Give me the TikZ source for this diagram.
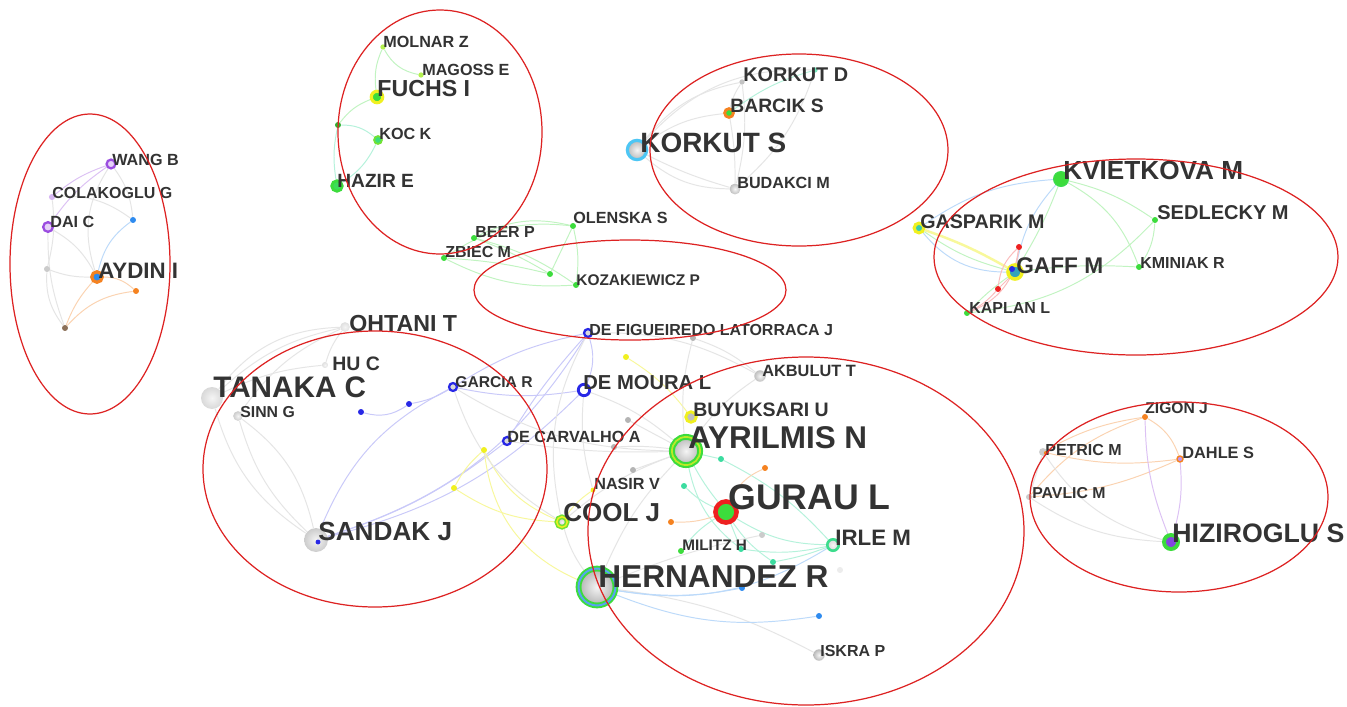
\documentclass[tikz,border=0pt]{standalone}
\usepackage{fontspec}
\setmainfont{Liberation Sans}
\pgfdeclarelayer{back}
\pgfdeclarelayer{bg}
\pgfsetlayers{back,bg,main}
\definecolor{txt}{HTML}{333333}
\definecolor{ellred}{HTML}{DD2222}
\definecolor{vgreen}{HTML}{3CDC3C}
\definecolor{vblue}{HTML}{2828E6}
\definecolor{dblue}{HTML}{2E8BEF}
\definecolor{vpurple}{HTML}{9B4DE0}
\definecolor{vorange}{HTML}{F58220}
\definecolor{vyellow}{HTML}{F0F020}
\definecolor{vteal}{HTML}{3CDCA0}
\definecolor{vgray}{HTML}{B4B4B4}
\definecolor{vbrown}{HTML}{8C7058}
\definecolor{vred}{HTML}{EE2020}
\definecolor{vlime}{HTML}{B4F050}
\tikzset{
  dot/.style={circle, inner sep=0pt, fill=#1},
  sz/.style={minimum size=#1},
  ring/.style={draw=#1, line width=1.3pt},
  gball/.style={circle, inner sep=0pt, inner color=gray!8, outer color=gray!#1},
  lab/.style={anchor=west, inner sep=0pt, text=txt, font=\bfseries\fontsize{#1}{#1}\selectfont},
  edge/.style={line width=0.55pt},
  eG/.style={edge, draw=vgray!35},
  eGr/.style={edge, draw=vgreen!32},
  eT/.style={edge, draw=vteal!38},
  eB/.style={edge, draw=dblue!32},
  eV/.style={edge, draw=vblue!25},
  eP/.style={edge, draw=vpurple!35},
  eO/.style={edge, draw=vorange!35},
  eY/.style={edge, draw=vyellow!45},
  eR/.style={edge, draw=vred!30},
  cluster/.style={draw=ellred, line width=0.7pt}
}
\begin{document}
\begin{tikzpicture}[x=0.02cm,y=-0.02cm]
\useasboundingbox (0,0) rectangle (1347,707);
\begin{pgfonlayer}{back}
\fill[white] (0,0) rectangle (1347,707);
\end{pgfonlayer}
% ---------- nodes: Aydin cluster
\node[dot=vpurple!25, sz=5pt, ring=vpurple] (wang) at (111,164) {};
\node[dot=vpurple!40, sz=3.5pt] (colak) at (52,197) {};
\node[dot=vpurple!25, sz=5.5pt, ring=vpurple] (dai) at (48,227) {};
\node[dot=dblue, sz=3.4pt] (a1) at (133,220) {};
\node[dot=vgray!70, sz=3.4pt] (a2) at (47,269) {};
\node[dot=dblue, sz=6pt, draw=vorange, line width=1.8pt] (aydin) at (97,277) {};
\node[dot=vorange, sz=3.4pt] (a3) at (136,291) {};
\node[dot=vbrown, sz=3.4pt] (a4) at (65,328) {};
% ---------- Fuchs cluster
\node[dot=vlime, sz=3pt] (molnar) at (383,47) {};
\node[dot=vlime, sz=3pt] (magoss) at (421,75) {};
\node[dot=vgreen, sz=6.5pt, draw=vyellow, line width=1.8pt] (fuchs) at (377,97) {};
\node[dot=vgreen!80!black, sz=3.4pt] (f1) at (338,125) {};
\node[dot=vteal!60!vgreen, sz=4.5pt, draw=vgreen!70!vyellow, line width=1pt] (koc) at (378,140) {};
\node[dot=vgreen!70!vteal, sz=6pt, draw=vgreen, line width=1.6pt] (hazir) at (337,186) {};
% ---------- Korkut cluster
\node[dot=vgray!80, sz=3pt] (korkutd) at (742,82) {};
\node[dot=vteal!70, sz=3pt] (k1) at (815,70) {};
\node[dot=vgreen, sz=5pt, draw=vorange, line width=1.6pt] (barcik) at (729,113) {};
\node[gball=55, sz=11pt, draw=cyan!70, line width=1.8pt] (korkuts) at (637,150) {};
\node[gball=50, sz=6.2pt] (budakci) at (735,189) {};
% ---------- Kvietkova cluster
\node[dot=vgreen, sz=8.5pt, draw=vgreen!80!vteal, line width=0.6pt] (kviet) at (1061,179) {};
\node[dot=vgreen, sz=3.4pt] (sedlecky) at (1155,220) {};
\node[dot=vteal!80!dblue, sz=5.5pt, draw=vyellow, line width=1.8pt] (gasparik) at (919,228) {};
\node[dot=dblue!70!vgreen, sz=8pt, draw=vyellow, line width=2pt] (gaff) at (1015,272) {};
\node[dot=vblue, sz=3.4pt] (gaffb) at (1012,269) {};
\node[dot=vgreen, sz=3.4pt] (kminiak) at (1139,267) {};
\node[dot=vgreen, sz=3.4pt] (kaplan) at (967,313) {};
\node[dot=vred, sz=3.4pt] (r1) at (1019,247) {};
\node[dot=vred, sz=3.4pt] (r2) at (998,289) {};
% ---------- centre green group
\node[dot=vgreen, sz=3.4pt] (beer) at (474,238) {};
\node[dot=vgreen, sz=3.4pt] (olenska) at (573,226) {};
\node[dot=vgreen, sz=3.4pt] (zbiec) at (444,258) {};
\node[dot=vgreen, sz=3.4pt] (c1) at (550,274) {};
\node[dot=vgreen, sz=3.4pt] (kozak) at (576,285) {};
% ---------- Sandak cluster
\node[gball=25, sz=5.5pt] (ohtani) at (345,327) {};
\node[gball=25, sz=3.4pt] (hu) at (325,365) {};
\node[gball=30, sz=12.5pt] (tanaka) at (212,398) {};
\node[gball=40, sz=5.5pt] (sinn) at (238,416) {};
\node[dot=gray!30, sz=4.5pt, ring=vblue] (garcia) at (453,387) {};
\node[dot=vblue, sz=3.4pt] (s1) at (409,404) {};
\node[dot=vblue, sz=3.4pt] (s2) at (361,412) {};
\node[dot=gray!30, sz=4.5pt, ring=vblue] (decarv) at (507,441) {};
\node[dot=vyellow, sz=3.4pt] (y1) at (484,450) {};
\node[dot=vyellow, sz=3.4pt] (y2) at (454,488) {};
\node[gball=40, sz=13.6pt] (sandak) at (316,540) {};
\node[dot=vblue, sz=2.8pt] (sandakb) at (318,542) {};
% ---------- middle / Gurau cluster
\node[dot=gray!30, sz=4.5pt, ring=vblue] (defig) at (588,333) {};
\node[dot=white, sz=6.5pt, draw=vblue, line width=1.6pt] (demoura) at (584,390) {};
\node[dot=vyellow, sz=3.4pt] (y3) at (626,357) {};
\node[dot=vgray, sz=3.4pt] (m1) at (693,338) {};
\node[gball=50, sz=6.5pt] (akbulut) at (760,376) {};
\node[dot=gray!50, sz=6pt, draw=vyellow, line width=1.6pt] (buyuk) at (691,417) {};
\node[dot=vgray, sz=3.4pt] (m2) at (628,420) {};
\node[dot=vgray, sz=3.4pt] (m3) at (614,447) {};
\node[dot=vgray, sz=3.4pt] (m4) at (633,470) {};
\node[gball=55, sz=16pt, draw=vgreen, double=vyellow!70!vgreen, double distance=1pt, line width=1.2pt] (ayrilmis) at (686,451) {};
\node[dot=vteal, sz=3.4pt] (t1) at (721,459) {};
\node[dot=vteal, sz=3.4pt] (t2) at (684,486) {};
\node[dot=vorange, sz=3.4pt] (o1) at (765,468) {};
\node[dot=vyellow, sz=2.8pt] (nasir) at (593,490) {};
\node[dot=vgreen, sz=12pt, draw=vred, line width=2.6pt] (gurau) at (726,512) {};
\node[gball=50, sz=6pt, draw=vgreen!70!vyellow, double=vyellow, double distance=0.8pt, line width=0.9pt] (cool) at (562,522) {};
\node[dot=vorange, sz=3.4pt] (o2) at (671,522) {};
\node[dot=vgray!70, sz=3.4pt] (g1) at (762,535) {};
\node[dot=vgreen, sz=3.4pt] (militz) at (681,551) {};
\node[dot=vteal, sz=3.4pt] (t3) at (741,549) {};
\node[dot=vteal, sz=3.4pt] (t4) at (773,562) {};
\node[gball=30, sz=6.5pt, draw=vteal!80!vgreen, line width=1.5pt] (irle) at (833,545) {};
\node[gball=60, sz=21pt, draw=vgreen, double=dblue!80, double distance=1.1pt, line width=1.1pt] (hernandez) at (597,587) {};
\node[dot=dblue, sz=3.4pt] (b1) at (742,588) {};
\node[dot=dblue, sz=3.4pt] (b2) at (819,616) {};
\node[dot=gray!15, sz=3.4pt] (g2) at (840,570) {};
\node[gball=55, sz=6.5pt] (iskra) at (819,655) {};
% ---------- Hiziroglu cluster
\node[dot=vorange, sz=3.4pt] (zigon) at (1145,417) {};
\node[dot=gray!40, sz=4.5pt] (petric) at (1043,452) {};
\node[dot=vorange, sz=2.4pt] (petrico) at (1046,453) {};
\node[dot=vpurple!60, sz=3.4pt, draw=vorange, line width=0.8pt] (dahle) at (1180,459) {};
\node[dot=gray!40, sz=3.4pt] (pavlic) at (1029,497) {};
\node[dot=vpurple!80!vblue, sz=8pt, draw=vgreen, line width=2.2pt] (hiz) at (1171,542) {};
% ---------- connectors
\begin{pgfonlayer}{bg}
% Aydin
\draw[eP] (wang) to[bend right=10] (dai);
\draw[eP] (wang) to[bend right=10] (colak);
\draw[eG] (wang) to[bend left=15] (a1);
\draw[eG] (wang) to[bend right=25] (aydin);
\draw[eG] (colak) to[bend left=10] (a2);
\draw[eG] (colak) to[bend left=20] (a1);
\draw[eG] (dai) to[bend left=15] (aydin);
\draw[eB] (a1) to[bend right=20] (aydin);
\draw[eO] (aydin) to[bend left=20] (a3);
\draw[eO] (a3) to[bend right=20] (a4);
\draw[eO] (aydin) to[bend right=10] (a4);
\draw[eG] (a2) to[bend right=20] (a4);
\draw[eG] (a2) to[bend right=10] (aydin);
\draw[eG] (dai) to[bend right=10] (a4);
% Fuchs
\draw[eGr] (molnar) to[bend right=15] (fuchs);
\draw[eGr] (molnar) to[bend right=25] (magoss);
\draw[eGr] (fuchs) to[bend right=15] (f1);
\draw[eT] (f1) to[bend left=20] (koc);
\draw[eT] (f1) to[bend right=10] (hazir);
\draw[eT] (koc) to[bend left=15] (hazir);
% Korkut
\draw[eG] (korkuts) to[bend left=15] (barcik);
\draw[eG] (korkuts) to[bend left=20] (korkutd);
\draw[eG] (korkuts) to[bend right=20] (budakci);
\draw[eG] (korkuts) to[bend left=25] (k1);
\draw[eG] (barcik) to[bend left=5] (budakci);
\draw[eG] (korkutd) to[bend left=10] (budakci);
\draw[eG] (barcik) to[bend left=10] (korkutd);
\draw[eT] (k1) to[bend right=10] (barcik);
\draw[eG] (k1) to[bend left=15] (budakci);
\draw[eG] (korkuts) to[bend right=5] (budakci);
% Kvietkova
\draw[eB] (gasparik) to[bend left=15] (kviet);
\draw[eB] (gasparik) to[bend right=25] (gaff);
\draw[eY, line width=1.4pt] (gasparik) to[bend left=5] (gaff);
\draw[eB] (kviet) to[bend right=15] (gaff);
\draw[eGr] (kviet) to[bend left=5] (gaff);
\draw[eGr] (kviet) to[bend left=20] (kminiak);
\draw[eGr] (kviet) to[bend left=10] (sedlecky);
\draw[eGr] (sedlecky) to[bend left=20] (kaplan);
\draw[eGr] (sedlecky) to[bend left=15] (kminiak);
\draw[eGr] (gaff) to[bend left=5] (kminiak);
\draw[eGr] (gaff) to[bend right=5] (kaplan);
\draw[eGr] (gasparik) to[bend right=10] (gaff);
\draw[eR] (r1) to (gaff);
\draw[eR] (r1) to[bend right=20] (r2);
\draw[eR] (r2) to (gaff);
\draw[eR] (r1) to[bend left=30] (kaplan);
\draw[eR] (r2) to[bend left=10] (kaplan);
% centre green
\draw[eGr] (beer) to[bend left=20] (olenska);
\draw[eGr] (beer) to[bend left=10] (kozak);
\draw[eGr] (zbiec) to[bend right=15] (kozak);
\draw[eGr] (zbiec) to[bend left=20] (olenska);
\draw[eGr] (olenska) to[bend left=10] (kozak);
\draw[eGr] (c1) to (olenska);
\draw[eGr] (zbiec) to[bend left=5] (c1);
\draw[eGr] (beer) to[bend left=5] (c1);
% Sandak
\draw[eG] (ohtani) to[bend right=15] (tanaka);
\draw[eG] (hu) to[bend right=10] (tanaka);
\draw[eG] (ohtani) to[bend right=10] (hu);
\draw[eG] (tanaka) to[bend right=20] (sandak);
\draw[eG] (sinn) to[bend left=20] (sandak);
\draw[eG] (sinn) to[bend right=15] (sandak);
\draw[eG] (ohtani) to[bend right=15] (sinn);
\draw[eG] (ohtani) to[bend right=25] (tanaka);
\draw[eV] (s2) to[bend right=25] (s1);
\draw[eV] (s1) to[bend right=10] (garcia);
\draw[eV] (garcia) to[bend right=20] (sandak);
\draw[eV] (sandak) to[bend right=10] (decarv);
\draw[eV] (sandak) to[bend right=15] (demoura);
\draw[eV] (sandak) to[bend right=20] (defig);
\draw[eV] (garcia) to[bend right=10] (demoura);
\draw[eV] (defig) to[bend right=5] (decarv);
\draw[eV] (defig) to[bend left=20] (demoura);
\draw[eV] (defig) to[bend right=10] (garcia);
\draw[eY] (y1) to[bend right=20] (cool);
\draw[eY] (y2) to[bend right=15] (cool);
\draw[eY] (y1) to[bend right=10] (y2);
\draw[eY] (y1) to[bend right=30] (hernandez);
\draw[eY] (y3) to[bend left=10] (buyuk);
\draw[eY] (nasir) to[bend right=10] (cool);
% middle gray
\draw[eG] (garcia) to[bend right=15] (ayrilmis);
\draw[eG] (decarv) to[bend right=5] (ayrilmis);
\draw[eG] (defig) to[bend left=15] (akbulut);
\draw[eG] (m1) to[bend right=10] (ayrilmis);
\draw[eG] (m1) to[bend left=10] (akbulut);
\draw[eG] (demoura) to[bend left=10] (ayrilmis);
\draw[eG] (m2) to (ayrilmis);
\draw[eG] (m3) to[bend left=5] (ayrilmis);
\draw[eG] (m4) to (ayrilmis);
\draw[eG] (akbulut) to[bend right=10] (ayrilmis);
\draw[eG] (cool) to[bend right=10] (hernandez);
\draw[eG] (cool) to[bend left=10] (ayrilmis);
\draw[eG] (ayrilmis) to[bend right=10] (hernandez);
\draw[eG] (hernandez) to[bend left=10] (iskra);
\draw[eG] (defig) to[bend right=20] (cool);
\draw[eG] (demoura) to[bend right=10] (nasir);
\draw[eG] (garcia) to[bend right=20] (cool);
% Gurau teal
\draw[eT] (ayrilmis) to[bend right=5] (gurau);
\draw[eT] (ayrilmis) to (t1);
\draw[eT] (t2) to[bend right=10] (gurau);
\draw[eT] (gurau) to[bend right=15] (irle);
\draw[eT] (gurau) to (t3);
\draw[eT] (gurau) to[bend right=10] (t4);
\draw[eT] (militz) to[bend left=10] (gurau);
\draw[eT] (t3) to[bend right=10] (irle);
\draw[eT] (t4) to[bend right=5] (irle);
\draw[eT] (t1) to[bend left=10] (irle);
\draw[eT] (ayrilmis) to[bend right=20] (t3);
\draw[eO] (o1) to[bend right=20] (gurau);
\draw[eO] (o2) to[bend right=10] (gurau);
\draw[eB] (hernandez) to[bend right=10] (b1);
\draw[eB] (hernandez) to[bend right=15] (b2);
\draw[eB] (hernandez) to[bend right=20] (irle);
\draw[eG] (hernandez) to[bend left=5] (g1);
% Hiziroglu
\draw[eO] (zigon) to[bend right=10] (petric);
\draw[eO] (zigon) to[bend left=20] (dahle);
\draw[eO] (zigon) to[bend right=15] (pavlic);
\draw[eO] (dahle) to[bend left=10] (petric);
\draw[eO] (dahle) to[bend left=10] (pavlic);
\draw[eP] (zigon) to[bend right=10] (hiz);
\draw[eP] (dahle) to[bend left=10] (hiz);
\draw[eG] (petric) to[bend right=20] (hiz);
\draw[eG] (pavlic) to[bend right=15] (hiz);
\draw[eG] (petric) to (pavlic);
\end{pgfonlayer}
% ---------- labels
\node[lab=9.2] (wangL) at (112,160) {WANG B};
\node[lab=9.1] (colakL) at (52,193) {COLAKOGLU G};
\node[lab=9.2] (daiL) at (50,222) {DAI C};
\node[lab=12.7] (aydinL) at (98,271) {AYDIN I};
\node[lab=9.2] (molnarL) at (383,42) {MOLNAR Z};
\node[lab=9.2] (magossL) at (422,70) {MAGOSS E};
\node[lab=13.2] (fuchsL) at (377,89) {FUCHS I};
\node[lab=9.2] (kocL) at (379,134) {KOC K};
\node[lab=10.9] (hazirL) at (337,181) {HAZIR E};
\node[lab=11.3] (korkutdL) at (743,75) {KORKUT D};
\node[lab=11] (barcikL) at (730,106) {BARCIK S};
\node[lab=15.9] (korkutsL) at (640,143) {KORKUT S};
\node[lab=9.2] (budakciL) at (737,183) {BUDAKCI M};
\node[lab=14.9] (kvietL) at (1063,170) {KVIETKOVA M};
\node[lab=11.4] (sedL) at (1157,213) {SEDLECKY M};
\node[lab=11.2] (gasL) at (920,222) {GASPARIK M};
\node[lab=12.9] (gaffL) at (1016,266) {GAFF M};
\node[lab=9.1] (kminL) at (1140,263) {KMINIAK R};
\node[lab=9.1] (kaplanL) at (969,308) {KAPLAN L};
\node[lab=9.1] (beerL) at (475,232) {BEER P};
\node[lab=9.2] (olenL) at (573,218) {OLENSKA S};
\node[lab=9.1] (zbiecL) at (445,252) {ZBIEC M};
\node[lab=8.8] (kozakL) at (576,280) {KOZAKIEWICZ P};
\node[lab=13.2] (ohtaniL) at (349,324) {OHTANI T};
\node[lab=11.1] (huL) at (332,364) {HU C};
\node[lab=16.9] (tanakaL) at (213,387) {TANAKA C};
\node[lab=9] (sinnL) at (240,412) {SINN G};
\node[lab=8.9] (garciaL) at (455,382) {GARCIA R};
\node[lab=9.1] (defigL) at (589,330) {DE FIGUEIREDO LATORRACA J};
\node[lab=11.5] (demouraL) at (583,383) {DE MOURA L};
\node[lab=9.3] (akbulutL) at (762,371) {AKBULUT T};
\node[lab=11.1] (buyukL) at (693,410) {BUYUKSARI U};
\node[lab=17.9] (ayrilmisL) at (688,438) {AYRILMIS N};
\node[lab=9.2] (decarvL) at (507,437) {DE CARVALHO A};
\node[lab=9.2] (nasirL) at (594,484) {NASIR V};
\node[lab=14.8] (coolL) at (563,513) {COOL J};
\node[lab=20.3] (gurauL) at (728,497) {GURAU L};
\node[lab=14.9] (sandakL) at (318,531) {SANDAK J};
\node[lab=12.7] (irleL) at (835,538) {IRLE M};
\node[lab=8.7] (militzL) at (682,545) {MILITZ H};
\node[lab=18] (hernL) at (598,577) {HERNANDEZ R};
\node[lab=9.1] (iskraL) at (820,651) {ISKRA P};
\node[lab=8.9] (zigonL) at (1145,408) {ZIGON J};
\node[lab=9.1] (petricL) at (1045,450) {PETRIC M};
\node[lab=9.3] (dahleL) at (1182,453) {DAHLE S};
\node[lab=9] (pavlicL) at (1032,493) {PAVLIC M};
\node[lab=15.2] (hizL) at (1172,533) {HIZIROGLU S};
% ---------- cluster outlines
\draw[cluster] (90,264) ellipse [x radius=80, y radius=150];
\draw[cluster] (440,132) ellipse [x radius=102, y radius=122];
\draw[cluster] (799,150) ellipse [x radius=149, y radius=96];
\draw[cluster] (1136,257) ellipse [x radius=202, y radius=98];
\draw[cluster] (630,290) ellipse [x radius=156, y radius=50];
\draw[cluster] (375,469) ellipse [x radius=172, y radius=138];
\draw[cluster] (806,531) ellipse [x radius=218, y radius=174];
\draw[cluster] (1179,497) ellipse [x radius=149, y radius=95];
\end{tikzpicture}
\end{document}
